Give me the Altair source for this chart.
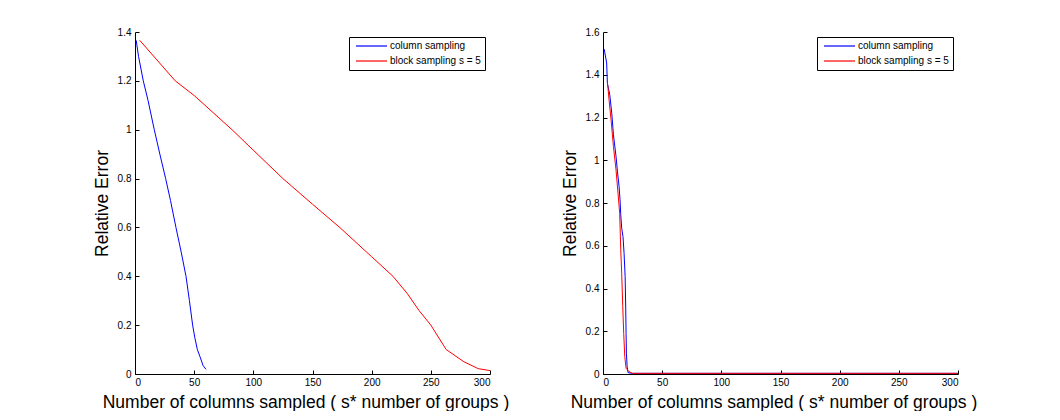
import altair as alt
import pandas as pd

FONT = "Liberation Sans"
X_TITLE = "Number of columns sampled ( s* number of groups )"
Y_TITLE = "Relative Error"
METHODS = ["column sampling", "block sampling s = 5"]
COLORS = ["#0000ff", "#ff0000"]
X_TICKS = [0, 50, 100, 150, 200, 250, 300]

# Left panel: column sampling vs block sampling
left_col_x = [1, 3, 7, 11, 16.3, 21, 25.9, 30, 34.6, 39, 43.1, 46, 48.7, 50.5, 52.7, 55, 57.5, 60]
left_col_y = [1.366, 1.3, 1.2, 1.12, 1.0, 0.9, 0.8, 0.71, 0.6, 0.5, 0.4, 0.3, 0.2, 0.15, 0.1, 0.07, 0.035, 0.019]
left_blk_x = [4, 34, 50, 82, 100, 125, 150, 173, 200, 218, 230, 240, 250, 263, 278, 290, 300]
left_blk_y = [1.366, 1.2, 1.14, 1.0, 0.916, 0.8, 0.695, 0.6, 0.48, 0.4, 0.33, 0.26, 0.2, 0.1, 0.05, 0.022, 0.014]

# Right panel
right_col_x = [1, 3.1, 3.7, 5.7, 7.4, 8.8, 11, 12.2, 13.6, 14.4, 15, 15.8, 16.9, 17.8, 18.7, 19.2, 19.5, 19.8, 20.4, 21.2, 25, 300]
right_col_y = [1.52, 1.455, 1.36, 1.307, 1.22, 1.12, 1.018, 0.948, 0.877, 0.815, 0.745, 0.682, 0.643, 0.565, 0.456, 0.308, 0.19, 0.097, 0.034, 0.006, 0.003, 0.003]
right_blk_x = [4, 5.1, 6.8, 8.8, 11, 12.7, 14.1, 15, 15.8, 16.7, 17.5, 18.4, 19.5, 22, 24.9, 300]
right_blk_y = [1.353, 1.283, 1.19, 1.065, 0.955, 0.846, 0.752, 0.581, 0.471, 0.315, 0.19, 0.081, 0.027, 0.011, 0.003, 0.003]

W, H = 355, 342


def panel(col_x, col_y, blk_x, blk_y, ymax):
    n = len(col_x) + len(blk_x)
    df = pd.DataFrame({
        "n": col_x + blk_x,
        "err": col_y + blk_y,
        "method": [METHODS[0]] * len(col_x) + [METHODS[1]] * len(blk_x),
        "seq": list(range(n)),
    })
    y_ticks = [round(0.2 * i, 1) for i in range(int(round(ymax / 0.2)) + 1)]
    xs = alt.Scale(domain=[0, 300], nice=False, zero=False)
    ys = alt.Scale(domain=[0, ymax], nice=False, zero=False)
    base = alt.Chart(df)

    lines = base.mark_line(strokeWidth=1, clip=True).encode(
        x=alt.X("n:Q", scale=xs, axis=alt.Axis(
            values=X_TICKS, title=X_TITLE, tickSize=0, labelPadding=3, titlePadding=6,
            titleX=W / 2 - 7, titleAlign="center")),
        y=alt.Y("err:Q", scale=ys, axis=alt.Axis(
            values=y_ticks, title=Y_TITLE, format=".1~f", tickSize=0, labelPadding=4, titlePadding=6)),
        color=alt.Color("method:N", scale=alt.Scale(domain=METHODS, range=COLORS), legend=alt.Legend(
            title=None, orient="top-right", offset=5, strokeColor="black", fillColor="white",
            padding=4, symbolType="stroke", symbolSize=961, symbolStrokeWidth=1.2, clipHeight=10,
            rowPadding=5, symbolOffset=2, labelOffset=2, labelFont=FONT, labelFontSize=10,
            labelColor="black")),
        detail="method:N",
        order="seq:Q",
    )

    # inward-pointing tick marks along both axes
    ticks = base.mark_point(opacity=0).encode(
        x=alt.X("n:Q", scale=xs, axis=alt.Axis(
            orient="bottom", values=X_TICKS, offset=-4, tickSize=4, labels=False, domain=False, title=None)),
        y=alt.Y("err:Q", scale=ys, axis=alt.Axis(
            orient="left", values=y_ticks, offset=-4, tickSize=4, labels=False, domain=False, title=None)),
    )
    return alt.layer(lines, ticks).resolve_axis(x="independent", y="independent").properties(
        width=W, height=H)


left = panel(left_col_x, left_col_y, left_blk_x, left_blk_y, 1.4)
right = panel(right_col_x, right_col_y, right_blk_x, right_blk_y, 1.6)

chart = alt.hconcat(left, right, spacing=52).resolve_scale(color="independent").properties(
    padding={"left": 93, "top": 27, "right": 0, "bottom": 0},
    background="white",
).configure_view(stroke=None).configure_axis(
    grid=False, domainColor="black", tickColor="black", labelColor="black",
    labelFont=FONT, labelFontSize=10, titleFont=FONT, titleFontSize=17.5,
    titleFontWeight="normal", titleColor="black", domainWidth=1, tickWidth=1,
)

chart.save("out.html", embed_options={"renderer": "svg", "actions": False})
